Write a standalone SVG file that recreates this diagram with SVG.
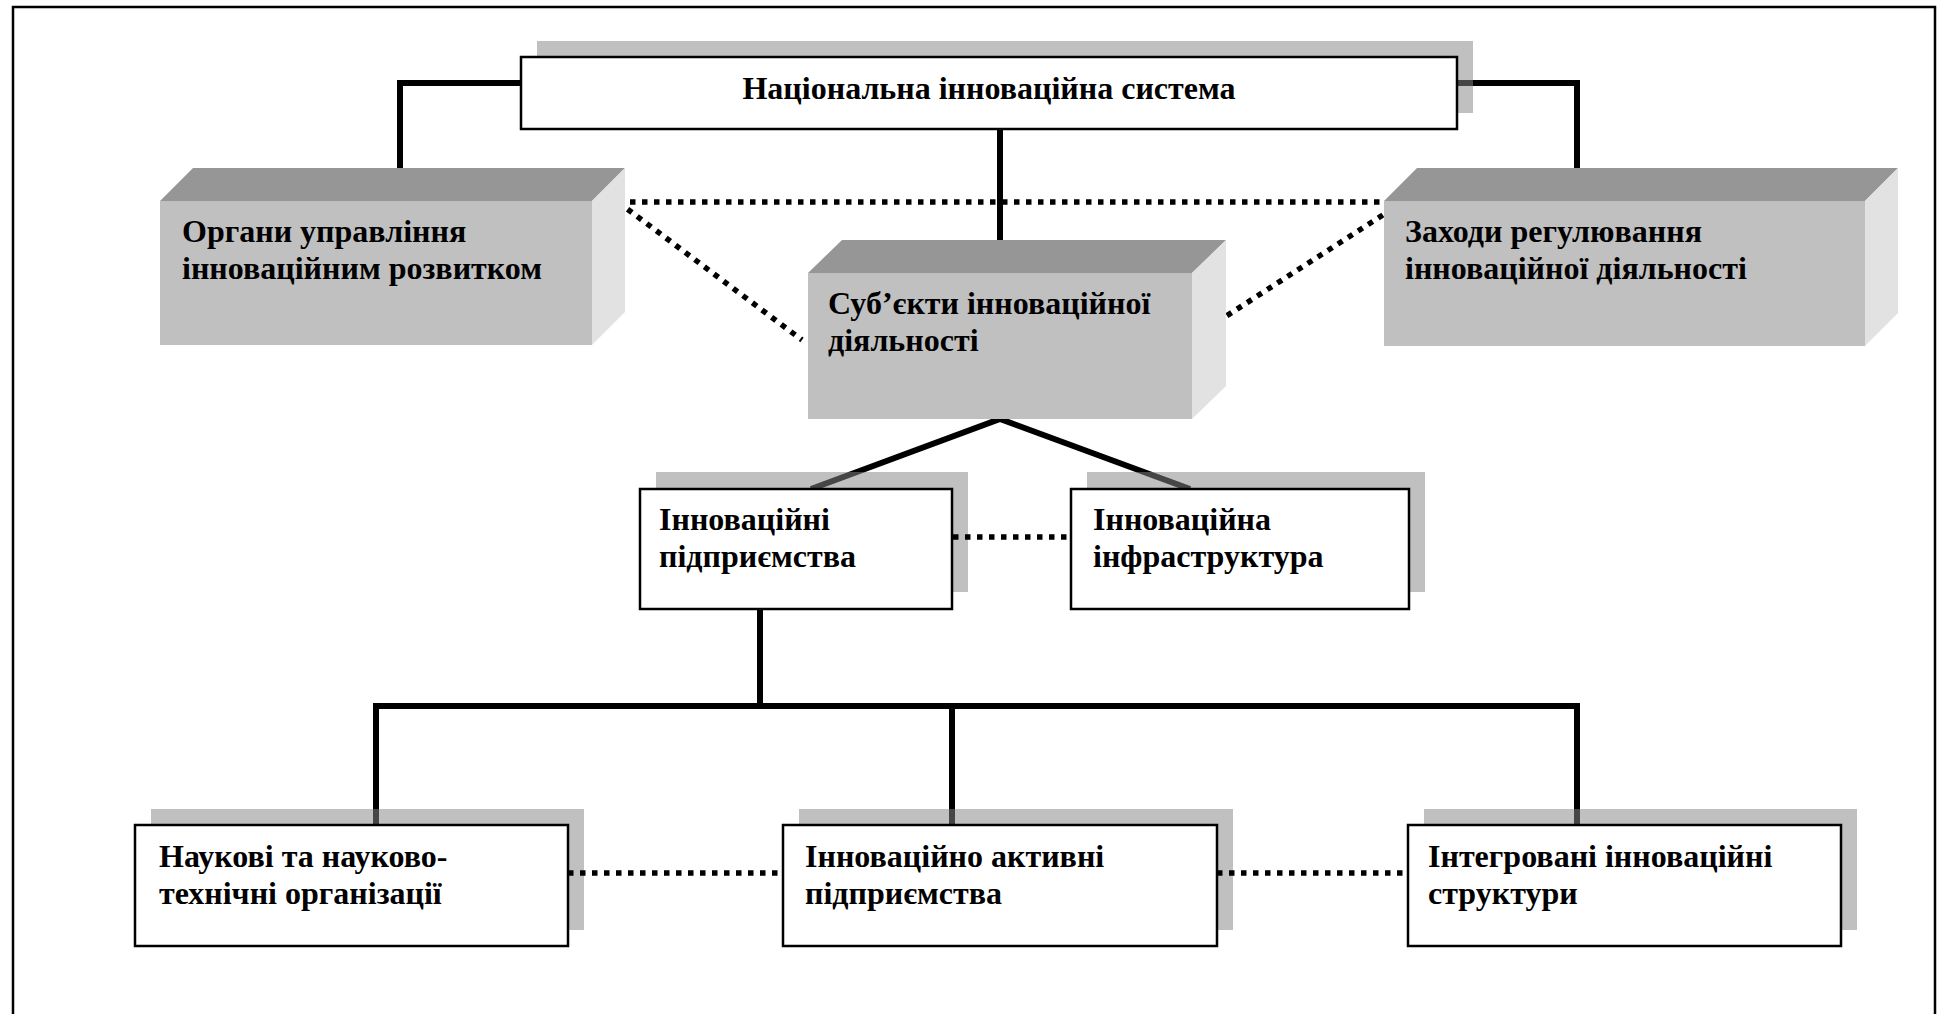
<svg xmlns="http://www.w3.org/2000/svg" width="1946" height="1014" viewBox="0 0 1946 1014">
<style>
.t{font-family:"Liberation Serif","Times New Roman",serif;font-weight:bold;font-size:32px;fill:#000}
.ln{fill:none;stroke:#000;stroke-width:6}
.dot{fill:none;stroke:#000;stroke-width:5.5;stroke-dasharray:5.5 6.5}
.box{fill:#fff;stroke:#000;stroke-width:2.5}
.sh{fill:#868686;fill-opacity:0.52}
.front{fill:#c0c0c0}
.top{fill:#969696}
.side{fill:#e2e2e2}
</style>
<rect x="0" y="0" width="1946" height="1014" fill="#fff"/>
<rect x="13" y="7" width="1922" height="1030" fill="none" stroke="#000" stroke-width="2.5"/>
<g id="connectors">
<polyline class="ln" points="521,83 400,83 400,168"/>
<polyline class="ln" points="1457,83 1577,83 1577,168"/>
<line class="ln" x1="1000" y1="129" x2="1000" y2="240"/>
<polyline class="ln" points="811,489 1000,419 1190,489"/>
<line class="ln" x1="760" y1="609" x2="760" y2="706"/>
<line class="ln" x1="373" y1="706" x2="1580" y2="706"/>
<line class="ln" x1="376" y1="706" x2="376" y2="825"/>
<line class="ln" x1="952" y1="706" x2="952" y2="825"/>
<line class="ln" x1="1577" y1="706" x2="1577" y2="825"/>
</g>
<g id="shadows">
<rect class="sh" x="537" y="41" width="936" height="72"/>
<rect class="sh" x="656" y="472" width="312" height="120"/>
<rect class="sh" x="1087" y="472" width="338" height="120"/>
<rect class="sh" x="151" y="809" width="433" height="121"/>
<rect class="sh" x="799" y="809" width="434" height="121"/>
<rect class="sh" x="1424" y="809" width="433" height="121"/>
</g>
<g id="dotted-connectors">
<line class="dot" x1="618" y1="202" x2="1403" y2="202"/>
<line class="dot" x1="618" y1="202" x2="802" y2="340"/>
<line class="dot" x1="1403" y1="202" x2="1217" y2="322"/>
<line class="dot" x1="953" y1="537" x2="1071" y2="537"/>
<line class="dot" x1="568" y1="873" x2="784" y2="873"/>
<line class="dot" x1="1217" y1="873" x2="1408" y2="873"/>
</g>
<g id="node-nis">
<rect class="box" x="521" y="57" width="936" height="72"/>
<text class="t" x="989" y="99" text-anchor="middle">Національна інноваційна система</text>
</g>
<g id="node-organy">
<polygon class="top" points="160,201 592,201 625,168 193,168"/>
<polygon class="side" points="592,201 625,168 625,312 592,345"/>
<rect class="front" x="160" y="201" width="432" height="144"/>
<text class="t" x="182" y="242">Органи управління</text>
<text class="t" x="182" y="279">інноваційним розвитком</text>
</g>
<g id="node-zakhody">
<polygon class="top" points="1384,201 1865,201 1898,168 1417,168"/>
<polygon class="side" points="1865,201 1898,168 1898,313 1865,346"/>
<rect class="front" x="1384" y="201" width="481" height="145"/>
<text class="t" x="1405" y="242">Заходи регулювання</text>
<text class="t" x="1405" y="279">інноваційної діяльності</text>
</g>
<g id="node-subjekty">
<polygon class="top" points="808,273 1192,273 1226,240 842,240"/>
<polygon class="side" points="1192,273 1226,240 1226,386 1192,419"/>
<rect class="front" x="808" y="273" width="384" height="146"/>
<text class="t" x="828" y="314">Суб’єкти інноваційної</text>
<text class="t" x="828" y="351">діяльності</text>
</g>
<g id="node-pidpryiemstva">
<rect class="box" x="640" y="489" width="312" height="120"/>
<text class="t" x="659" y="530">Інноваційні</text>
<text class="t" x="659" y="567">підприємства</text>
</g>
<g id="node-infrastruktura">
<rect class="box" x="1071" y="489" width="338" height="120"/>
<text class="t" x="1093" y="530">Інноваційна</text>
<text class="t" x="1093" y="567">інфраструктура</text>
</g>
<g id="node-naukovi">
<rect class="box" x="135" y="825" width="433" height="121"/>
<text class="t" x="159" y="867">Наукові та науково-</text>
<text class="t" x="159" y="904">технічні організації</text>
</g>
<g id="node-aktyvni">
<rect class="box" x="783" y="825" width="434" height="121"/>
<text class="t" x="805" y="867">Інноваційно активні</text>
<text class="t" x="805" y="904">підприємства</text>
</g>
<g id="node-intehrovani">
<rect class="box" x="1408" y="825" width="433" height="121"/>
<text class="t" x="1428" y="867">Інтегровані інноваційні</text>
<text class="t" x="1428" y="904">структури</text>
</g>
</svg>
